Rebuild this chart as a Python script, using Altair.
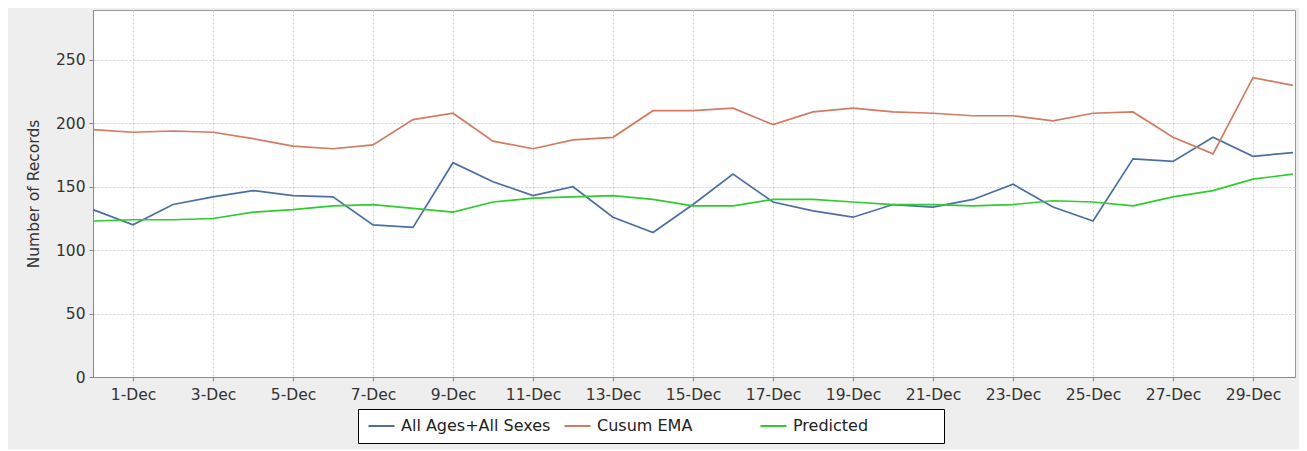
import altair as alt
import pandas as pd

# ---- data ----
dates = [
    "2013-11-30", "2013-12-01", "2013-12-02", "2013-12-03", "2013-12-04", "2013-12-05",
    "2013-12-06", "2013-12-07", "2013-12-08", "2013-12-09", "2013-12-10", "2013-12-11",
    "2013-12-12", "2013-12-13", "2013-12-14", "2013-12-15", "2013-12-16", "2013-12-17",
    "2013-12-18", "2013-12-19", "2013-12-20", "2013-12-21", "2013-12-22", "2013-12-23",
    "2013-12-24", "2013-12-25", "2013-12-26", "2013-12-27", "2013-12-28", "2013-12-29",
    "2013-12-30",
]
all_ages = [132, 120, 136, 142, 147, 143, 142, 120, 118, 169, 154, 143, 150, 126, 114, 136,
            160, 138, 131, 126, 136, 134, 140, 152, 134, 123, 172, 170, 189, 174, 177]
cusum_ema = [195, 193, 194, 193, 188, 182, 180, 183, 203, 208, 186, 180, 187, 189, 210, 210,
             212, 199, 209, 212, 209, 208, 206, 206, 202, 208, 209, 189, 176, 236, 230]
predicted = [123, 124, 124, 125, 130, 132, 135, 136, 133, 130, 138, 141, 142, 143, 140, 135,
             135, 140, 140, 138, 136, 136, 135, 136, 139, 138, 135, 142, 147, 156, 160]

series_names = ["All Ages+All Sexes", "Cusum EMA", "Predicted"]
series_colors = ["#4b6fa3", "#d27b62", "#2fcc2f"]
tick_days = list(range(1, 30, 2))
y_ticks = [0, 50, 100, 150, 200, 250]

rows = []
for name, vals in zip(series_names, [all_ages, cusum_ema, predicted]):
    for d, v in zip(dates, vals):
        rows.append({"date": d, "value": v, "series": name})
df = pd.DataFrame(rows)

FONT = "DejaVu Sans"

x_enc = alt.X(
    "date:T",
    scale=alt.Scale(
        type="utc",
        domain=[
            alt.DateTime(year=2013, month=11, date=30, utc=True),
            alt.DateTime(year=2013, month=12, date=30, hours=1, minutes=12, utc=True),
        ],
    ),
    axis=alt.Axis(
        title=None,
        labelExpr="utcFormat(datum.value, '%-d-%b')",
        values=[alt.DateTime(year=2013, month=12, date=d, utc=True) for d in tick_days],
        labelFont=FONT, labelFontSize=15.5, labelColor="#333333",
        labelPadding=6, tickSize=4, tickColor="#888888",
        domainColor="#888888",
        grid=True, gridColor="#cfcfcf", gridDash=[2, 2], gridWidth=1,
        labelFlush=False, labelOverlap=False,
    ),
)

y_enc = alt.Y(
    "value:Q",
    scale=alt.Scale(domain=[0, 289.4], nice=False, zero=True),
    axis=alt.Axis(
        title="Number of Records",
        values=y_ticks,
        labelFont=FONT, labelFontSize=15.5, labelColor="#333333",
        labelPadding=4, tickSize=4, tickColor="#888888",
        domainColor="#888888",
        grid=True, gridColor="#cfcfcf", gridDash=[2, 2], gridWidth=1,
        titleFont=FONT, titleFontSize=15.5, titleFontWeight="normal", titleColor="#333333",
        titleX=-60, titleY=183.5, titleAngle=270, titleAlign="center", titleBaseline="middle",
    ),
)

pad_label = "datum.label == 'Predicted' ? datum.label + '" + "\u00a0" * 13 + "\u200b' : datum.label"

color_enc = alt.Color(
    "series:N",
    scale=alt.Scale(domain=series_names, range=series_colors),
    legend=alt.Legend(
        title=None,
        orient="none",
        legendX=265,
        legendY=399,
        direction="horizontal",
        columns=3,
        gridAlign="all",
        columnPadding=9,
        symbolType="M-1,0H3",
        symbolSize=169,
        symbolStrokeWidth=2,
        labelFont=FONT, labelFontSize=16, labelColor="#222222",
        labelOffset=18,
        labelLimit=400,
        labelExpr=pad_label,
        padding=9,
        fillColor="white",
        strokeColor="#000000",
        cornerRadius=0,
    ),
)

chart = (
    alt.Chart(df)
    .mark_line(strokeWidth=1.7)
    .encode(x=x_enc, y=y_enc, color=color_enc, order=alt.Order("date:T"))
    .properties(
        width=1202,
        height=367,
        autosize=alt.AutoSizeParams(type="none"),
        padding={"left": 85, "top": 2, "right": 4, "bottom": 72},
        background="#eeeeee",
    )
    .configure_view(fill="white", stroke="#999999", strokeWidth=1)
    .configure_legend(strokeWidth=1)
)

chart.save("out.html", embed_options={"renderer": "svg", "actions": False})
